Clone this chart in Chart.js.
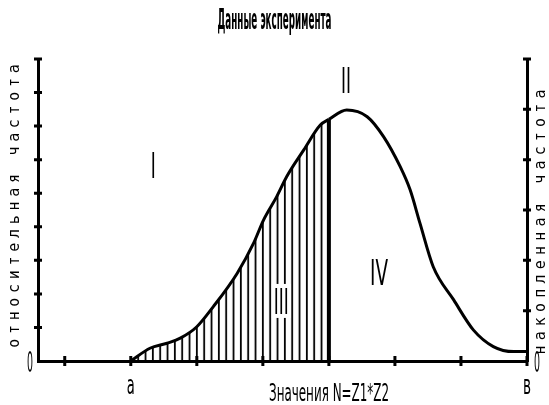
<!DOCTYPE html>
<html>
<head>
<meta charset="utf-8">
<script src="https://cdn.jsdelivr.net/npm/chart.js@4"></script>
<style>
  html, body { margin: 0; padding: 0; background: #fff; }
  #wrap { width: 549px; height: 405px; }
</style>
</head>
<body>
<div id="wrap"><canvas id="freqChart"></canvas></div>
<script>
// кривая относительной частоты по значениям N
const curveX = [2, 2.29, 2.55, 2.75, 3, 3.25, 3.61, 3.86, 4.01, 4.21, 4.36, 4.62, 4.87, 5,
                5.27, 5.58, 5.83, 6.08, 6.23, 6.38, 6.58, 6.89, 7.19, 7.49, 7.8, 8];
const curveY = [0, 0.38, 0.53, 0.68, 1.02, 1.62, 2.61, 3.51, 4.2, 4.9, 5.49, 6.29, 7.03, 7.2,
                7.48, 7.28, 6.68, 5.79, 5.1, 4.1, 2.81, 1.82, 0.92, 0.43, 0.28, 0.28];

const xTicks = [1, 2, 3, 4, 5, 6, 7, 8];
const xTickLabels = ['', 'a', '', '', '', '', '', 'в'];
const leftTicks = [0, 1, 2, 3, 4, 5, 6, 7, 8, 9];
const rightTicks = [0, 1, 2, 3, 4, 5, 6];

// заштрихованная область III: от a до x = 5
const hatchFrom = 2;
const hatchTo = 5;

const regionNames = ['I', 'II', 'III', 'IV'];
const regionAt = [[2.34, 5.84], [5.26, 8.37], [4.28, 1.79], [5.76, 2.65]];

const points = curveX.map((x, i) => ({ x: x, y: curveY[i] }));
const cutY = curveY[curveX.indexOf(hatchTo)];

// вертикальная штриховка
const tile = document.createElement('canvas');
tile.width = 22; tile.height = 4;
const tctx = tile.getContext('2d');
tctx.fillStyle = '#000';
for (let i = 0; i < 3; i++) tctx.fillRect(i * 22 / 3, 0, 1.8, 4);
const hatch = tctx.createPattern(tile, 'repeat');

const FONT = "'DejaVu Sans', 'Liberation Sans', sans-serif";

// узкий шрифт: текст сжимается по ширине
function narrowText(ctx, text, x, y, size, width, weight) {
  ctx.save();
  ctx.font = (weight || 'normal') + ' ' + size + 'px ' + FONT;
  const w = ctx.measureText(text).width;
  ctx.translate(x, y);
  ctx.scale(width / w, 1);
  ctx.textAlign = 'center';
  ctx.textBaseline = 'alphabetic';
  ctx.fillStyle = '#000';
  ctx.fillText(text, 0, 0);
  ctx.restore();
}

function verticalText(ctx, text, cx, cy, spacing) {
  ctx.save();
  ctx.translate(cx, cy);
  ctx.rotate(-Math.PI / 2);
  ctx.font = "15px 'DejaVu Sans Mono', monospace";
  ctx.letterSpacing = spacing + 'px';
  ctx.textAlign = 'center';
  ctx.textBaseline = 'middle';
  ctx.fillStyle = '#000';
  ctx.fillText(text, spacing / 2, 0);
  ctx.restore();
}

const decor = {
  id: 'decor',
  beforeDatasetsDraw(chart) {
    const x0 = chart.scales.x.getPixelForValue(hatchFrom);
    hatch.setTransform(new DOMMatrix().translateSelf(x0 - 0.9, 0));
  },
  afterDraw(chart) {
    const ctx = chart.ctx;
    const sx = chart.scales.x, sy = chart.scales.y, sr = chart.scales.y2;
    const area = chart.chartArea;

    ctx.save();
    ctx.strokeStyle = '#000';
    ctx.lineWidth = 3;
    ctx.beginPath();
    xTicks.forEach(v => {
      const px = sx.getPixelForValue(v);
      ctx.moveTo(px, area.bottom - 5); ctx.lineTo(px, area.bottom + 5);
    });
    leftTicks.slice(1).forEach(v => {
      const py = sy.getPixelForValue(v);
      ctx.moveTo(area.left - 4, py); ctx.lineTo(area.left + 4, py);
    });
    rightTicks.slice(1).forEach(v => {
      const py = sr.getPixelForValue(v);
      ctx.moveTo(area.right - 4, py); ctx.lineTo(area.right + 4, py);
    });
    ctx.stroke();
    ctx.restore();

    // подписи делений
    narrowText(ctx, '0', area.left - 8, sy.getPixelForValue(0) + 11, 29, 6);
    narrowText(ctx, '0', area.right + 10, sr.getPixelForValue(0) + 11, 29, 6);
    xTicks.forEach((v, i) => {
      if (xTickLabels[i]) narrowText(ctx, xTickLabels[i], sx.getPixelForValue(v), 394, 27, 8);
    });

    // римские номера областей
    regionAt.forEach((p, i) => {
      const px = sx.getPixelForValue(p[0]);
      const py = sy.getPixelForValue(p[1]);
      const name = regionNames[i];
      const w = name.length * 5 + (name === 'IV' ? 8 : 0);
      if (name === 'III') {
        ctx.fillStyle = '#fff';
        ctx.fillRect(px - w / 2 - 2, py - 17, w + 4, 34);
      }
      narrowText(ctx, name, px, py + 13, 36, w);
    });

    // заголовки
    narrowText(ctx, 'Данные эксперимента', chart.width / 2, 29, 29, 114, 'bold');
    narrowText(ctx, 'Значения N=Z1*Z2', 329, 401, 24, 120);
    verticalText(ctx, 'относительная частота', 15, 206, 4.7);
    verticalText(ctx, 'накопленная частота', 541, 222, 5.2);
  }
};

new Chart(document.getElementById('freqChart'), {
  type: 'line',
  data: {
    datasets: [{
      data: points,
      borderColor: '#000',
      borderWidth: 3,
      pointRadius: 0,
      cubicInterpolationMode: 'monotone',
      fill: 'origin',
      backgroundColor: 'rgba(0,0,0,0)',
      segment: {
        backgroundColor: c => (c.p0.parsed.x >= hatchFrom && c.p0.parsed.x < hatchTo ? hatch : 'rgba(0,0,0,0)')
      }
    }, {
      data: [{ x: hatchTo, y: 0 }, { x: hatchTo, y: cutY }],
      borderColor: '#000',
      borderWidth: 4,
      pointRadius: 0,
      fill: false
    }]
  },
  options: {
    responsive: true,
    maintainAspectRatio: false,
    animation: false,
    layout: { padding: { left: 38, right: 22, top: 59, bottom: 44 } },
    plugins: { legend: { display: false }, tooltip: { enabled: false }, title: { display: false } },
    scales: {
      x: {
        type: 'linear', min: 0.595, max: 8,
        ticks: { display: false, stepSize: 1 },
        grid: { display: false, drawTicks: false },
        border: { display: true, color: '#000', width: 3 }
      },
      y: {
        min: 0, max: 9,
        ticks: { display: false, stepSize: 1 },
        grid: { display: false, drawTicks: false },
        border: { display: true, color: '#000', width: 3 }
      },
      y2: {
        position: 'right', min: 0, max: 6,
        ticks: { display: false, stepSize: 1 },
        grid: { display: false, drawTicks: false },
        border: { display: true, color: '#000', width: 3 }
      }
    }
  },
  plugins: [decor]
});
</script>
</body>
</html>
